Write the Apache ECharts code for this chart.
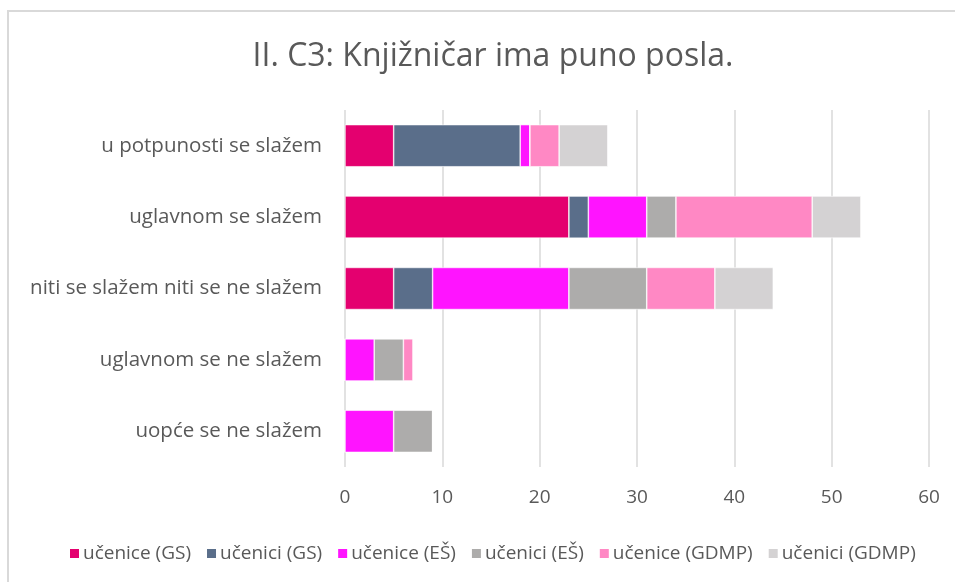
<!DOCTYPE html>
<html>
<head>
<meta charset="utf-8">
<script src="https://cdn.jsdelivr.net/npm/echarts@6/dist/echarts.min.js"></script>
<style>
  html, body { margin: 0; padding: 0; background: #fff; }
  #chart { width: 955px; height: 582px; }
</style>
</head>
<body>
<div id="chart"></div>
<script>
const title = 'II. C3: Knjižničar ima puno posla.';
const categories = [
  'u potpunosti se slažem',
  'uglavnom se slažem',
  'niti se slažem niti se ne slažem',
  'uglavnom se ne slažem',
  'uopće se ne slažem'
];
const seriesNames = ['učenice (GS)', 'učenici (GS)', 'učenice (EŠ)', 'učenici (EŠ)', 'učenice (GDMP)', 'učenici (GDMP)'];
const uceniceGS   = [5, 23, 5, 0, 0];
const uceniciGS   = [13, 2, 4, 0, 0];
const uceniceES   = [1, 6, 14, 3, 5];
const uceniciES   = [0, 3, 8, 3, 4];
const uceniceGDMP = [3, 14, 7, 1, 0];
const uceniciGDMP = [5, 5, 6, 0, 0];
const xTicks = [0, 10, 20, 30, 40, 50, 60];

const seriesData = [uceniceGS, uceniciGS, uceniceES, uceniciES, uceniceGDMP, uceniciGDMP];
const colors = ['#E4006F', '#5A6E8A', '#FF14FF', '#ADACAB', '#FF88C4', '#D4D2D3'];
const font = '"Open Sans", "Noto Sans", sans-serif';

const chart = echarts.init(document.getElementById('chart'), null, { renderer: 'canvas' });
chart.setOption({
  animation: false,
  color: colors,
  title: {
    text: title,
    left: 488,
    textAlign: 'center',
    top: 36,
    textStyle: { fontFamily: font, fontSize: 32, fontWeight: 'normal', color: '#595959' }
  },
  graphic: [{
    type: 'rect',
    shape: { x: 8, y: 11, width: 980, height: 620 },
    style: { fill: 'none', stroke: '#D9D9D9', lineWidth: 2 },
    silent: true
  }],
  legend: {
    data: seriesNames,
    left: 63,
    top: 539,
    itemWidth: 11,
    itemHeight: 11,
    itemGap: 14,
    icon: 'rect',
    textStyle: { fontFamily: font, fontSize: 19, color: '#595959', padding: [0, 0, 0, -2] }
  },
  grid: { left: 345, right: 26, top: 110, bottom: 115, containLabel: false },
  xAxis: {
    type: 'value',
    min: xTicks[0],
    max: xTicks[xTicks.length - 1],
    interval: 10,
    axisLine: { show: false },
    axisTick: { show: false },
    splitLine: { lineStyle: { color: '#D9D9D9', width: 1.5 } },
    axisLabel: { fontFamily: font, fontSize: 19, color: '#595959', margin: 21 }
  },
  yAxis: {
    type: 'category',
    inverse: true,
    data: categories,
    axisLine: { show: false },
    axisTick: { show: false },
    axisLabel: { fontFamily: font, fontSize: 20.5, color: '#595959', margin: 23 }
  },
  series: seriesNames.map((name, i) => ({
    name: name,
    type: 'bar',
    stack: 'total',
    barWidth: '59%',
    data: seriesData[i],
    itemStyle: { color: colors[i], borderColor: '#ffffff', borderWidth: 0.6 }
  }))
});
</script>
</body>
</html>
